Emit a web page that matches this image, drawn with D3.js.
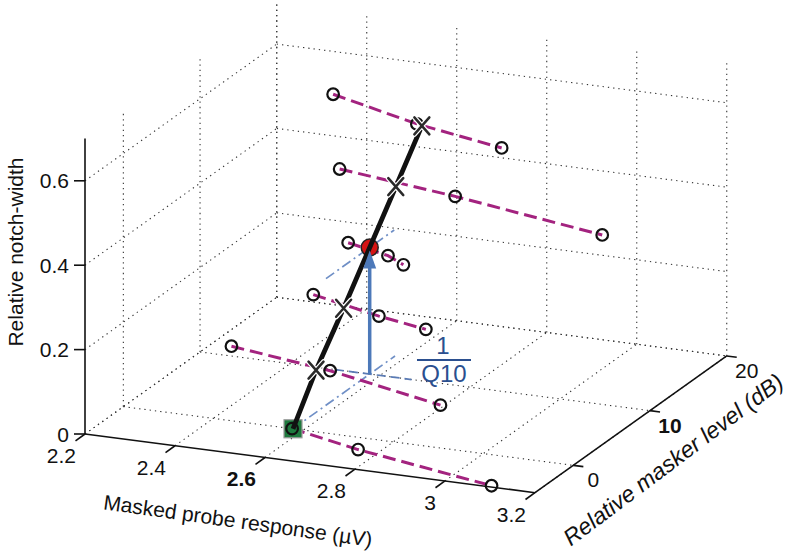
<!DOCTYPE html>
<html><head><meta charset="utf-8">
<script src="https://cdn.jsdelivr.net/npm/d3@7/dist/d3.min.js"></script>
<style>html,body{margin:0;padding:0;background:#fff;}svg{display:block;font-family:"Liberation Sans",Arial,Helvetica,sans-serif;}</style>
</head><body><svg id="c" width="789" height="560"></svg>
<script>
// ---------------- data ----------------
const notchWidths = [0, 0.1, 0.2, 0.3, 0.4, 0.5];
const maskerLevels = [
  [0, -1.9, -4.8],
  [5.0, 3.2, 0.1],
  [8.1, 6.1, 5.0],
  [10.3, 9.1, 8.0],
  [15.0, 13.1, 10.1],
  [19.9, 17.0, 15.0]
];
const probeResponses = [
  [2.575, 2.754, 3.10],
  [2.355, 2.605, 2.903],
  [2.484, 2.664, 2.787],
  [2.524, 2.633, 2.686],
  [2.425, 2.714, 3.092],
  [2.327, 2.5625, 2.785]
];
const isoResponse = 2.577;
const isoLevels = [0, 3.0, 6.6, 10, 13.4, 16.8];
const refIndex = 3;          // red point (10 dB)
const xTicks = [2.2, 2.4, 2.6, 2.8, 3, 3.2];
const yTicks = [0, 10, 20];
const zTicks = [0, 0.2, 0.4, 0.6];
const xBold = 2.6, yBold = 10;
const xLabel = "Masked probe response (\u00B5V)";
const yLabel = "Relative masker level (dB)";
const zLabel = "Relative notch-width";

// ---------------- projection ----------------
const xS = d3.scaleLinear().domain([2.2, 3.2]).range([0, 1]);
const yS = d3.scaleLinear().domain([-5, 20]).range([0, 1]);
const zS = d3.scaleLinear().domain([0, 0.7]).range([0, 1]);
const O = [85, 434], EX = [450, 58.7], EY = [191.75, -136.75], EZ = [0, -295.4];
function P(x, y, z) {
  const u = xS(x), v = yS(y), w = zS(z);
  return [O[0] + u*EX[0] + v*EY[0] + w*EZ[0], O[1] + u*EX[1] + v*EY[1] + w*EZ[1]];
}
const [x0, x1] = xS.domain(), [y0, y1] = yS.domain(), [z0, z1] = zS.domain();
const svg = d3.select("#c");
const line = d3.line();

// ---------------- grid ----------------
const grid = svg.append("g").attr("stroke", "#333").attr("stroke-width", 1.1)
  .attr("stroke-dasharray", "1.3,4").attr("fill", "none");
const gl = [];
xTicks.forEach(x => { gl.push([P(x, y0, 0), P(x, y1, 0)]); gl.push([P(x, y1, z0), P(x, y1, z1)]); });
yTicks.forEach(y => { gl.push([P(x0, y, 0), P(x1, y, 0)]); gl.push([P(x0, y, z0), P(x0, y, z1)]); });
zTicks.forEach(z => { gl.push([P(x0, y1, z), P(x1, y1, z)]); gl.push([P(x0, y0, z), P(x0, y1, z)]); });
grid.selectAll("path").data(gl).join("path").attr("d", d => line(d));

// ---------------- axes ----------------
const ax = svg.append("g").attr("stroke", "#111").attr("stroke-width", 1.6).attr("fill", "none");
ax.append("path").attr("d", line([P(x0, y0, 0), P(x1, y0, 0)]));
ax.append("path").attr("d", line([P(x1, y0, 0), P(x1, y1, 0)]));
ax.append("path").attr("d", line([P(x0, y0, z0), P(x0, y0, z1)]));
xTicks.forEach(x => { const p = P(x, y0, 0); ax.append("path").attr("d", line([p, [p[0]-9.5, p[1]+6.8]])); });
yTicks.forEach(y => { const p = P(x1, y, 0); ax.append("path").attr("d", line([p, [p[0]+10, p[1]+1.3]])); });
zTicks.forEach(z => { const p = P(x0, y0, z); ax.append("path").attr("d", line([p, [p[0]-11, p[1]]])); });

const fs = 21;
const tl = svg.append("g").attr("fill", "#111").attr("font-size", fs);
xTicks.forEach(x => { const p = P(x, y0, 0);
  tl.append("text").attr("x", p[0]-9).attr("y", p[1]+29).attr("text-anchor", "end")
    .attr("font-weight", x === xBold ? "bold" : null).text(d3.format("~g")(x)); });
yTicks.forEach(y => { const p = P(x1, y, 0);
  tl.append("text").attr("x", p[0]+20).attr("y", p[1]+22).attr("text-anchor", "middle")
    .attr("font-weight", y === yBold ? "bold" : null).text(y); });
zTicks.forEach(z => { const p = P(x0, y0, z);
  tl.append("text").attr("x", p[0]-16).attr("y", p[1]+7.5).attr("text-anchor", "end").text(d3.format("~g")(z)); });

svg.append("text").attr("font-size", 21).attr("fill", "#111").attr("text-anchor", "middle")
  .attr("transform", "translate(237,528) rotate(8)").text(xLabel);
svg.append("text").attr("font-size", 23).attr("fill", "#111").attr("font-style", "italic").attr("text-anchor", "middle")
  .attr("transform", "translate(678,466) rotate(-37)").text(yLabel);
svg.append("text").attr("font-size", 21).attr("fill", "#111").attr("text-anchor", "middle")
  .attr("transform", "translate(23,252) rotate(-90)").text(zLabel);

// ---------------- blue construction lines ----------------
const blue = "#6f8fc6";
const bl = svg.append("g").attr("fill", "none").attr("stroke", blue).attr("stroke-width", 1.7);
bl.append("path").attr("d", line([P(isoResponse, 0, 0), P(isoResponse, 13.3, 0)])).attr("stroke-dasharray", "10,4,2,4");
bl.append("path").attr("d", line([P(2.50, 10, 0), P(2.67, 10, 0)])).attr("stroke-dasharray", "9,5").attr("stroke", "#5a7bb5");
bl.append("path").attr("d", line([P(isoResponse, 4.3, 0.3), P(isoResponse, 13.2, 0.3)])).attr("stroke-dasharray", "10,4,2,4");

// ---------------- magenta curves ----------------
const mag = "#a3237f";
const curves = notchWidths.map((z, i) => maskerLevels[i].map((y, j) => ({x: probeResponses[i][j], y, z})));
svg.append("g").selectAll("path").data(curves).join("path")
  .attr("d", d => line(d.map(p => P(p.x, p.y, p.z))))
  .attr("fill", "none").attr("stroke", mag).attr("stroke-width", 3).attr("stroke-dasharray", "13,6");

// iso-response line
const iso = notchWidths.map((z, i) => P(isoResponse, isoLevels[i], z));

// green reference square
const g0 = iso[0];
svg.append("rect").attr("x", g0[0]-9).attr("y", g0[1]-9).attr("width", 18).attr("height", 18)
  .attr("fill", "#1e7a3e").attr("stroke", "#9a9a9a").attr("stroke-width", 1.2);

// circles
svg.append("g").selectAll("circle").data(curves.flat()).join("circle")
  .attr("cx", d => P(d.x, d.y, d.z)[0]).attr("cy", d => P(d.x, d.y, d.z)[1]).attr("r", 5.8)
  .attr("fill", "none").attr("stroke", "#111").attr("stroke-width", 2.2);

// red point
const rp = iso[refIndex];
svg.append("circle").attr("cx", rp[0]).attr("cy", rp[1]).attr("r", 8.5).attr("fill", "#d41414").attr("stroke", "#222").attr("stroke-width", 1.5);

// black iso line
svg.append("path").attr("d", line(iso)).attr("fill", "none").attr("stroke", "#111").attr("stroke-width", 4.8);

// X markers
const xs = iso.filter((p, i) => i !== 0 && i !== refIndex);
const xm = svg.append("g");
[["#fff", 5], ["#2a2a2a", 2.5]].forEach(([c, w]) => {
  xm.selectAll(null).data(xs).join("path")
    .attr("d", p => `M${p[0]-7.5},${p[1]-8.5}L${p[0]+7.5},${p[1]+8.5}M${p[0]-7.5},${p[1]+8.5}L${p[0]+7.5},${p[1]-8.5}`)
    .attr("stroke", c).attr("stroke-width", w).attr("fill", "none").attr("stroke-linecap", "round");
});

// blue arrow
const ab = P(isoResponse, isoLevels[refIndex], 0);
svg.append("path").attr("d", line([ab, [rp[0], rp[1]+16]])).attr("stroke", "#4d79b9").attr("stroke-width", 3.5);
svg.append("path").attr("d", `M${rp[0]},${rp[1]+3}L${rp[0]-6.5},${rp[1]+21}L${rp[0]+6.5},${rp[1]+21}Z`).attr("fill", "#4d79b9");

// 1/Q10 annotation
const ann = svg.append("g").attr("fill", "#2b4f8f").attr("font-size", 24).attr("text-anchor", "middle");
ann.append("text").attr("x", 443).attr("y", 354).text("1");
ann.append("path").attr("d", "M417,360L471,360").attr("stroke", "#2b4f8f").attr("stroke-width", 2);
ann.append("text").attr("x", 444).attr("y", 382).text("Q10");
</script></body></html>
